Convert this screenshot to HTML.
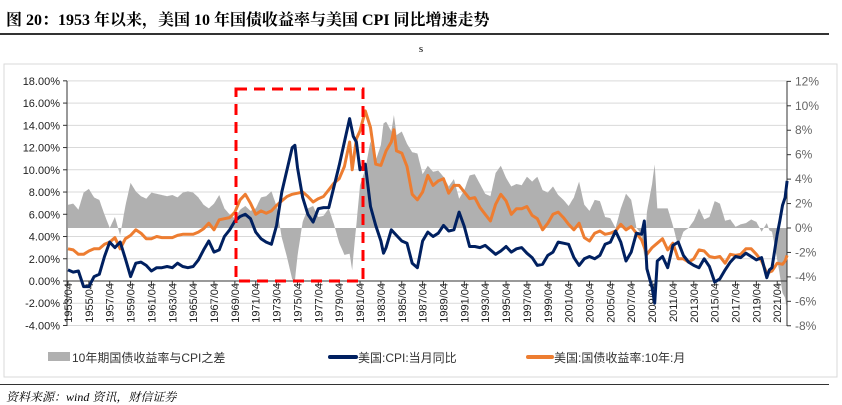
<!DOCTYPE html>
<html><head><meta charset="utf-8"><style>
body{margin:0;background:#fff;width:842px;height:404px;overflow:hidden;font-family:"Liberation Sans","Noto Sans CJK SC",sans-serif;}
#title{position:absolute;left:6px;top:7px;font:bold 16px "Liberation Serif","Noto Serif CJK SC",serif;color:#000;}
#rule1{position:absolute;left:0;top:33px;width:829px;height:2px;background:#333;}
#rule2{position:absolute;left:0;top:384px;width:829px;height:1px;background:#333;}
#src{position:absolute;left:6px;top:388px;font:italic 12px "Liberation Serif","Noto Serif CJK SC",serif;color:#000;}
svg{position:absolute;left:0;top:0;}
</style></head><body>
<div id="title">图 20：1953 年以来，美国 10 年国债收益率与美国 CPI 同比增速走势</div>
<div id="rule1"></div>
<div id="rule2"></div>
<div id="src">资料来源：wind 资讯，财信证券</div>
<svg id="chart" width="842" height="404"></svg>
<script>
const cpiT=[1953.25,1953.75,1954.25,1954.75,1955.25,1955.75,1956.25,1956.75,1957.25,1957.75,1958.25,1958.75,1959.25,1959.75,1960.25,1960.75,1961.25,1961.75,1962.25,1962.75,1963.25,1963.75,1964.25,1964.75,1965.25,1965.75,1966.25,1966.75,1967.25,1967.75,1968.25,1968.75,1969.25,1969.75,1970.25,1970.75,1971.25,1971.75,1972.25,1972.75,1973.25,1973.75,1974.25,1974.75,1975.0,1975.25,1975.75,1976.25,1976.75,1977.25,1977.75,1978.25,1978.75,1979.25,1979.75,1980.25,1980.6,1980.9,1981.25,1981.75,1982.25,1982.75,1983.25,1983.5,1983.75,1984.25,1984.75,1985.25,1985.75,1986.25,1986.75,1987.25,1987.75,1988.25,1988.75,1989.25,1989.75,1990.25,1990.75,1991.25,1991.75,1992.25,1992.75,1993.25,1993.75,1994.25,1994.75,1995.25,1995.75,1996.25,1996.75,1997.25,1997.75,1998.25,1998.75,1999.25,1999.75,2000.25,2000.75,2001.25,2001.75,2002.25,2002.75,2003.25,2003.75,2004.25,2004.75,2005.25,2005.75,2006.25,2006.75,2007.25,2007.75,2008.25,2008.5,2008.75,2009.25,2009.5,2009.75,2010.25,2010.75,2011.25,2011.75,2012.25,2012.75,2013.25,2013.75,2014.25,2014.75,2015.25,2015.75,2016.25,2016.75,2017.25,2017.75,2018.25,2018.75,2019.25,2019.75,2020.25,2020.5,2020.75,2021.25,2021.5,2021.75,2022.0,2022.2];
const cpiV=[1.0,0.8,0.9,-0.5,-0.5,0.4,0.6,2.2,3.5,3.0,3.5,2.0,0.4,1.6,1.7,1.4,0.9,1.2,1.2,1.3,1.2,1.6,1.3,1.2,1.3,1.9,2.8,3.6,2.6,2.8,4.0,4.6,5.4,5.8,6.0,5.6,4.4,3.8,3.5,3.3,5.0,8.0,10.0,12.0,12.2,10.2,7.5,6.0,5.3,6.5,6.6,6.6,8.5,10.4,12.5,14.6,13.0,12.5,10.0,10.5,6.7,5.0,3.6,2.5,3.0,4.6,4.1,3.6,3.4,1.6,1.2,3.6,4.4,4.0,4.3,5.0,4.5,4.6,6.2,4.9,3.1,3.1,3.0,3.2,2.8,2.4,2.7,3.1,2.6,2.9,3.0,2.5,2.1,1.4,1.5,2.3,2.6,3.5,3.4,3.3,2.1,1.4,2.0,2.2,2.0,2.3,3.3,3.5,4.5,3.5,1.8,2.6,4.3,4.2,5.4,1.1,-0.6,-2.0,1.8,2.2,1.2,3.2,3.5,2.3,1.7,1.4,1.2,2.0,1.3,-0.1,0.2,1.0,1.7,2.2,2.1,2.5,2.2,1.9,2.1,0.3,1.0,1.2,4.2,5.4,6.8,7.5,9.0];
const yT=[1953.25,1953.75,1954.25,1954.75,1955.25,1955.75,1956.25,1956.75,1957.25,1957.75,1958.25,1958.75,1959.25,1959.75,1960.25,1960.75,1961.25,1961.75,1962.25,1962.75,1963.25,1963.75,1964.25,1964.75,1965.25,1965.75,1966.25,1966.75,1967.25,1967.75,1968.25,1968.75,1969.25,1969.75,1970.25,1970.75,1971.25,1971.75,1972.25,1972.75,1973.25,1973.75,1974.25,1974.75,1975.25,1975.75,1976.25,1976.75,1977.25,1977.75,1978.25,1978.75,1979.25,1979.75,1980.25,1980.5,1980.9,1981.25,1981.75,1982.25,1982.75,1983.25,1983.75,1984.25,1984.5,1984.75,1985.25,1985.75,1986.25,1986.75,1987.25,1987.75,1988.25,1988.75,1989.25,1989.75,1990.25,1990.75,1991.25,1991.75,1992.25,1992.75,1993.25,1993.75,1994.25,1994.75,1995.25,1995.75,1996.25,1996.75,1997.25,1997.75,1998.25,1998.75,1999.25,1999.75,2000.25,2000.75,2001.25,2001.75,2002.25,2002.75,2003.25,2003.75,2004.25,2004.75,2005.25,2005.75,2006.25,2006.75,2007.25,2007.75,2008.25,2008.75,2009.25,2009.75,2010.25,2010.75,2011.25,2011.75,2012.25,2012.75,2013.25,2013.75,2014.25,2014.75,2015.25,2015.75,2016.25,2016.75,2017.25,2017.75,2018.25,2018.75,2019.25,2019.75,2020.25,2020.75,2021.25,2021.75,2022.0,2022.2];
const yV=[2.9,2.8,2.4,2.4,2.7,2.9,2.9,3.3,3.5,3.9,2.9,3.8,4.1,4.6,4.3,3.8,3.8,4.0,3.9,3.9,3.9,4.1,4.2,4.2,4.2,4.4,4.7,5.2,4.6,5.5,5.6,5.7,6.2,7.3,7.8,7.0,6.0,6.3,6.1,6.3,6.8,7.2,7.6,7.8,7.9,8.0,7.6,7.1,7.4,7.6,8.2,8.8,9.2,10.3,12.5,10.0,12.8,13.5,15.3,13.8,10.5,10.4,11.7,12.5,13.6,11.7,11.5,10.3,7.8,7.3,8.0,9.5,8.6,9.0,9.2,7.9,8.6,8.6,8.0,7.4,7.5,6.6,6.0,5.4,6.9,7.8,7.2,6.0,6.5,6.5,6.7,5.9,5.6,4.6,5.2,6.0,6.2,5.7,5.1,4.6,5.2,3.9,3.6,4.3,4.5,4.2,4.3,4.5,5.1,4.6,4.9,4.3,3.7,2.4,3.0,3.4,3.8,2.8,3.4,2.0,2.0,1.7,2.0,2.8,2.7,2.2,2.1,2.2,1.6,2.4,2.3,2.4,2.9,2.9,2.4,1.8,0.7,0.9,1.6,1.5,1.8,2.3];
const leftTicks=[18,16,14,12,10,8,6,4,2,0,-2,-4];
const rightTicks=[12,10,8,6,4,2,0,-2,-4,-6,-8];
const yearTicks=[];for(let y=1953;y<=2021;y+=2)yearTicks.push(y);

const X0=68,PXY=10.43,X=t=>X0+(t-1953.25)*PXY;
const YL=v=>281-v*11.12;
const YR=v=>228-v*12.22;
const NS='http://www.w3.org/2000/svg';
const svg=document.getElementById('chart');
function mk(tag,at,parent){const e=document.createElementNS(NS,tag);for(const k in at)e.setAttribute(k,at[k]);(parent||svg).appendChild(e);return e;}
function interp(T,V,t){if(t<=T[0])return V[0];for(let i=1;i<T.length;i++)if(t<=T[i]){const f=(t-T[i-1])/(T[i]-T[i-1]);return V[i-1]+f*(V[i]-V[i-1]);}return V[V.length-1];}

const frame=mk('rect',{x:4,y:64,width:833,height:313,fill:'none',stroke:'#d9d9d9','stroke-width':1});

const st=mk('text',{x:421,y:52,'font-size':11,'font-family':'Liberation Serif,serif','text-anchor':'middle',fill:'#000'});st.textContent='s';


leftTicks.forEach(v=>{
 const g=mk('line',{x1:67,x2:787,y1:YL(v),y2:YL(v),stroke:'#d9d9d9','stroke-width':1});
 
 mk('line',{x1:63,x2:67,y1:YL(v),y2:YL(v),stroke:'#333'});
 const t=mk('text',{x:60,y:YL(v)+4,'font-size':11,'text-anchor':'end',fill:'#222'});t.textContent=v.toFixed(2)+'%';
 
});
rightTicks.forEach(v=>{
 mk('line',{x1:787,x2:791,y1:YR(v),y2:YR(v),stroke:'#333'});
 const t=mk('text',{x:795,y:YR(v)+4,'font-size':12,fill:'#666'});t.textContent=v+'%';
 
});

// spread area (right axis)
let pts=[];
for(let t=1953.25;t<=2022.2;t+=1/12){
 const s=interp(yT,yV,t)-interp(cpiT,cpiV,t);
 pts.push(X(t).toFixed(1)+','+YR(s).toFixed(1));
}
const area=mk('polygon',{points:X(1953.25)+','+YR(0)+' '+pts.join(' ')+' '+X(2022.2)+','+YR(0),fill:'#b0b0b0',stroke:'none'});


// axes
const la=mk('line',{x1:67,x2:67,y1:81,y2:326,stroke:'#333'});

const ra=mk('line',{x1:787,x2:787,y1:81,y2:326,stroke:'#333'});

const xa=mk('line',{x1:67,x2:787,y1:281,y2:281,stroke:'#333'});


yearTicks.forEach(y=>{
 const x=X(y+0.25);
 mk('line',{x1:x,x2:x,y1:281,y2:286,stroke:'#333'});
 const t=mk('text',{x:0,y:0,'font-size':11,'text-anchor':'end',fill:'#222',transform:`translate(${x+4},283) rotate(-90)`});
 t.textContent=y+'/04';
 
});

function line(T,V,col,name){
 const p=mk('polyline',{points:T.map((t,i)=>X(t).toFixed(1)+','+YL(V[i]).toFixed(1)).join(' '),fill:'none',stroke:col,'stroke-width':3,'stroke-linejoin':'round'});
 
}
line(yT,yV,'#ED7D31','yield-line');
line(cpiT,cpiV,'#002060','cpi-line');

const box=mk('rect',{x:236,y:89,width:127,height:192,fill:'none',stroke:'#ff0000','stroke-width':3,'stroke-dasharray':'11,7'});


// legend
const lg=[['#b0b0b0',48,22,'10年期国债收益率与CPI之差','legend-spread'],['#002060',330,26,'美国:CPI:当月同比','legend-cpi'],['#ED7D31',528,24,'美国:国债收益率:10年:月','legend-yield']];
lg.forEach(([c,x,w,txt,n])=>{
 const g=mk('g',{});
 if(n==='legend-spread')mk('rect',{x:x,y:352,width:w,height:9,fill:c},g);
 else mk('line',{x1:x,x2:x+w,y1:357,y2:357,stroke:c,'stroke-width':4,'stroke-linecap':'round'},g);
 const t=mk('text',{x:x+w+2,y:362,'font-size':12,fill:'#333'},g);t.textContent=txt;
});
</script>
</body></html>
